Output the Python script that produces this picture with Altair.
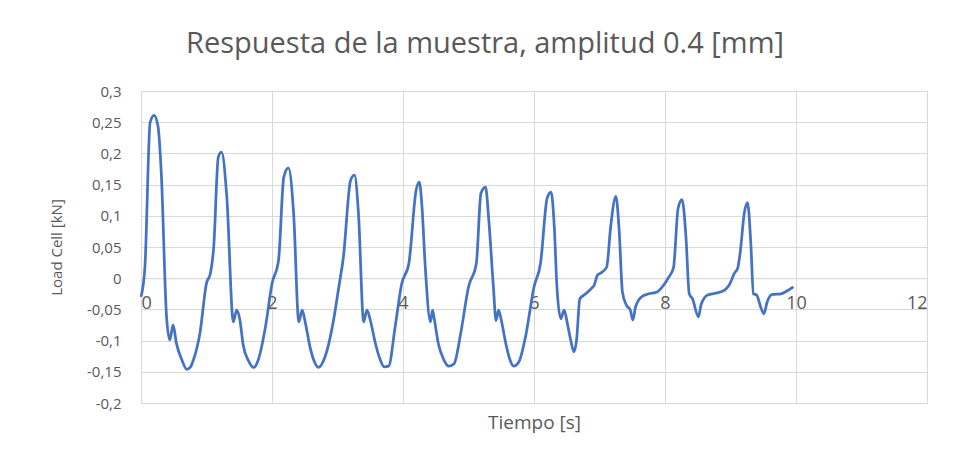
import altair as alt
import pandas as pd

tiempo = [0.00, 0.06, 0.14, 0.20, 0.26, 0.31, 0.39, 0.44, 0.49, 0.54, 0.62, 0.70, 0.75, 0.80, 0.90,
          1.00, 1.06, 1.11, 1.18, 1.23, 1.31, 1.41, 1.46, 1.51, 1.56, 1.64, 1.72, 1.79, 1.90,
          2.00, 2.10, 2.18, 2.25, 2.33, 2.41, 2.46, 2.51, 2.58, 2.64, 2.71, 2.81, 2.94,
          3.02, 3.09, 3.20, 3.26, 3.32, 3.40, 3.45, 3.50, 3.58, 3.65, 3.71, 3.78, 3.88, 3.98,
          4.09, 4.20, 4.25, 4.29, 4.34, 4.42, 4.45, 4.48, 4.54, 4.62, 4.70, 4.78, 4.88,
          5.00, 5.12, 5.19, 5.26, 5.31, 5.38, 5.42, 5.46, 5.50, 5.57, 5.63, 5.69, 5.77, 5.87,
          6.00, 6.10, 6.20, 6.26, 6.31, 6.35, 6.41, 6.46, 6.51, 6.56, 6.61, 6.65, 6.70, 6.79, 6.89, 6.91, 6.97,
          7.03, 7.11, 7.17, 7.25, 7.30, 7.35, 7.41, 7.47, 7.51, 7.55, 7.64, 7.75, 7.88, 7.98,
          8.06, 8.13, 8.20, 8.26, 8.32, 8.37, 8.42, 8.51, 8.55, 8.65, 8.78, 8.91, 8.98,
          9.06, 9.11, 9.15, 9.21, 9.26, 9.31, 9.35, 9.40, 9.46, 9.51, 9.56, 9.64, 9.77, 9.87, 9.96]

carga = [-0.030, 0.018, 0.250, 0.261, 0.243, 0.168, -0.062, -0.099, -0.075, -0.104, -0.130, -0.146, -0.143, -0.131, -0.088,
         -0.008, 0.008, 0.050, 0.194, 0.202, 0.130, -0.070, -0.051, -0.067, -0.107, -0.132, -0.143, -0.131, -0.078,
         -0.009, 0.029, 0.162, 0.177, 0.104, -0.070, -0.051, -0.072, -0.110, -0.132, -0.143, -0.126, -0.067,
         -0.014, 0.034, 0.157, 0.165, 0.104, -0.070, -0.051, -0.067, -0.105, -0.130, -0.142, -0.141, -0.078, -0.009,
         0.024, 0.141, 0.154, 0.114, 0.018, -0.070, -0.051, -0.067, -0.105, -0.130, -0.141, -0.137, -0.089,
         -0.014, 0.024, 0.136, 0.146, 0.093, -0.014, -0.068, -0.051, -0.067, -0.105, -0.130, -0.141, -0.134, -0.094,
         -0.014, 0.024, 0.128, 0.138, 0.082, -0.014, -0.065, -0.051, -0.073, -0.099, -0.118, -0.099, -0.033, -0.025, -0.015, -0.013, 0.005,
         0.009, 0.018, 0.082, 0.131, 0.077, -0.022, -0.043, -0.051, -0.067, -0.046, -0.030, -0.025, -0.022, -0.011,
         0.002, 0.017, 0.112, 0.126, 0.066, -0.025, -0.033, -0.062, -0.043, -0.027, -0.024, -0.019, -0.011,
         0.008, 0.016, 0.043, 0.104, 0.121, 0.056, -0.025, -0.027, -0.046, -0.057, -0.038, -0.026, -0.025, -0.020, -0.014]

x_ticks = [0, 2, 4, 6, 8, 10, 12]
y_ticks = [-0.2, -0.15, -0.1, -0.05, 0, 0.05, 0.1, 0.15, 0.2, 0.25, 0.3]

df = pd.DataFrame({"t": tiempo, "f": carga})

txt = "#595959"
grid = "#d9d9d9"
font = "Open Sans"

chart = alt.Chart(df).mark_line(color="#4472C4", strokeWidth=2.75, interpolate="monotone").encode(
    x=alt.X("t:Q",
            scale=alt.Scale(domain=[0, 12], nice=False, zero=False),
            axis=alt.Axis(values=x_ticks, offset=-124.8, domain=True, domainColor=grid,
                          ticks=False, labelFontSize=18, labelColor=txt, labelFont=font,
                          labelPadding=16, gridColor=grid, title="Tiempo [s]",
                          titleFont=font, titleFontSize=19, titleFontWeight="normal",
                          titleColor=txt, titleBaseline="alphabetic", titleY=150)),
    y=alt.Y("f:Q",
            scale=alt.Scale(domain=[-0.2, 0.3], nice=False, zero=False),
            axis=alt.Axis(values=y_ticks, domain=False, ticks=False,
                          labelExpr="replace(toString(datum.value), '.', ',')",
                          labelFontSize=15, labelColor=txt, labelFont=font, labelPadding=20,
                          gridColor=grid, title="Load Cell [kN]", titleFont=font,
                          titleFontSize=15, titleFontWeight="normal", titleColor=txt,
                          titlePadding=22)),
).properties(
    width=786,
    height=312,
    autosize="none",
    padding={"left": 133, "top": 83, "right": 18, "bottom": 42},
    title=alt.TitleParams("Respuesta de la muestra, amplitud 0.4 [mm]", font=font,
                          fontSize=29, fontWeight="normal", color=txt, anchor="middle",
                          dx=-49, dy=28, offset=30, baseline="alphabetic"),
).configure_view(stroke=grid)

chart.save("out.html", embed_options={"renderer": "svg", "actions": False})
